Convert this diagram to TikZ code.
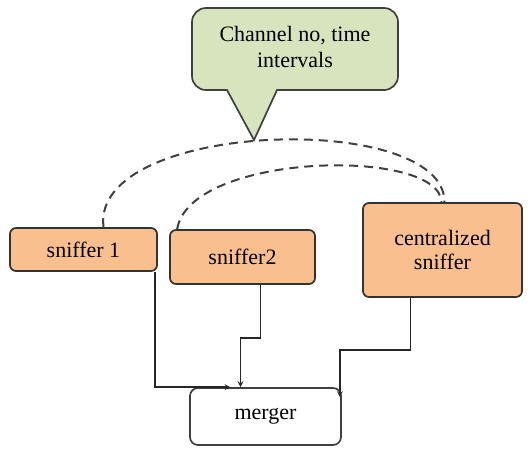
\documentclass[tikz,border=0pt]{standalone}
\usepackage{fontspec}
\setmainfont{Liberation Serif}
\definecolor{peach}{HTML}{F9BF8F}
\definecolor{sage}{HTML}{D7E4BD}

\begin{document}
\begin{tikzpicture}[x=1pt, y=-1pt]
				\tikzstyle{every node}=[align=center, inner sep=1pt, font=\fontsize{22}{24}\selectfont]
				\tikzstyle{sniffbox}=[draw=black!80, line width=1.7pt, fill=peach, rounded corners=6pt]
				\tikzstyle{link}=[draw=black!85, line width=1.6pt, ->, >=stealth]
				\tikzstyle{talk}=[draw=black!75, line width=2pt, dash pattern=on 9pt off 6pt]
				\useasboundingbox (0,0) rectangle (532,451);

				% callout
				\coordinate (tip) at (254,140);
				\draw[draw=black!75, line width=1.7pt, fill=sage] (tip) -- (227,90) [rounded corners=14pt] -- (192,90) -- (192,8) -- (398,8) -- (398,90) [sharp corners] -- (277,90) -- cycle;
				\node (note) at (295,47) {Channel no, time\\[2pt]intervals};

				\node[sniffbox, minimum width=147pt, minimum height=43pt] (s1) at (83.5,249.5) {sniffer 1};
				\node[sniffbox, minimum width=145pt, minimum height=54pt] (s2) at (242.5,257) {sniffer2};
				\node[sniffbox, minimum width=159pt, minimum height=94pt] (c) at (442.5,250) {centralized\\sniffer};
				\node[draw=black!75, line width=1.7pt, rounded corners=8pt, minimum width=151pt, minimum height=57pt] (m) at (265.5,416.5) {merger};

				\draw[talk] ([xshift=20pt]s1.north) .. controls (90,120) and (445,110) .. ([xshift=2pt]c.north);
				\draw[talk] ([xshift=8pt]s2.north west) .. controls (190,152) and (440,147) .. ([xshift=-1pt]c.north);

				\draw[link] ([xshift=-3pt]s1.south east) |- ([xshift=-35pt]m.north);
				\draw[link] ([xshift=18pt]s2.south) -- ++(0,53) -| ([xshift=-25pt]m.north);
				\draw[link] ([xshift=-32pt]c.south) -- ++(0,52) -| ([xshift=-2pt, yshift=-10pt]m.north east);
			\end{tikzpicture}
\end{document}
